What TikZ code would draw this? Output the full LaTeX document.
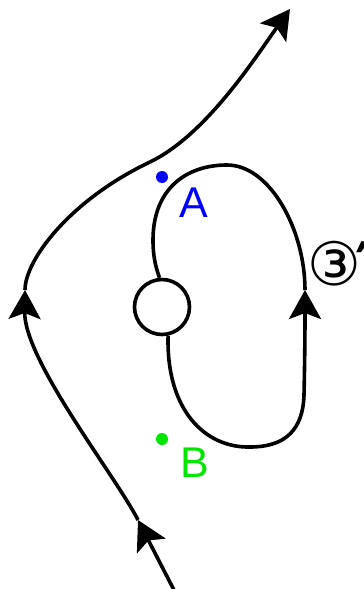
\documentclass[tikz,border=0pt]{standalone}
\usepackage{fontspec}
\setmainfont{Liberation Sans}
\newfontfamily\symfont{DejaVu Sans}
\newfontfamily\symbold{DejaVu Sans Bold}
\usetikzlibrary{arrows.meta}
\definecolor{bgreen}{RGB}{0,230,0}
\definecolor{ablue}{RGB}{0,0,255}
\begin{document}
\begin{tikzpicture}[x=1pt,y=-1pt,
  curve/.style={line width=3.6pt, line join=round},
  tip/.style={-{Stealth[length=29pt,width=32pt,inset=6pt]}},
  lbl/.style={font=\fontsize{43}{43}\selectfont, inner sep=0pt},
  dot/.style={circle, inner sep=0pt, minimum size=12pt, draw=none}]
\useasboundingbox (0,0) rectangle (364,589);
% outer trajectory
\coordinate (o0) at (176,594);
\coordinate (o1) at (138,520);
\coordinate (o2) at (25,290);
\coordinate (o3) at (150,162);
\coordinate (o4) at (290,9);
\draw[curve,tip] (o0) -- (o1);
\draw[curve,tip] (o1) .. controls (115,475) and (24,360) .. (o2);
\draw[curve] (o2) .. controls (25,260) and (70,200) .. (o3);
\draw[curve,tip] (o3) .. controls (206,135) and (255,58) .. (o4);
% hole
\node[circle, draw, fill=white, line width=3.6pt, minimum size=55pt, inner sep=0pt] (hole) at (162,307) {};
% inner loop
\coordinate (i1) at (250,447);
\coordinate (i2) at (304,395);
\coordinate (i3) at (305,290);
\coordinate (i4) at (227,165);
\coordinate (i5) at (153,240);
\draw[curve] (hole.-78) .. controls (166,410) and (205,448) .. (i1) .. controls (285,447) and (303,430) .. (i2);
\draw[curve,tip] (i2) .. controls (305,350) and (305,320) .. (i3);
\draw[curve] (i3) .. controls (305,230) and (270,165) .. (i4) .. controls (185,165) and (153,190) .. (i5) .. controls (153,260) and (157,270) .. (hole.95);
% points
\node[dot, fill=ablue] (dA) at (162,177) {};
\node[dot, fill=bgreen] (dB) at (162,439) {};
\node[lbl, text=ablue] (A) at (194,203) {A};
\node[lbl, text=bgreen] (B) at (195,463) {B};
\node[inner sep=0pt, font=\symfont\fontsize{60}{60}\selectfont] (three) at (334,264) {③\rlap{\symbold\kern-5pt ′}};
\end{tikzpicture}
\end{document}
